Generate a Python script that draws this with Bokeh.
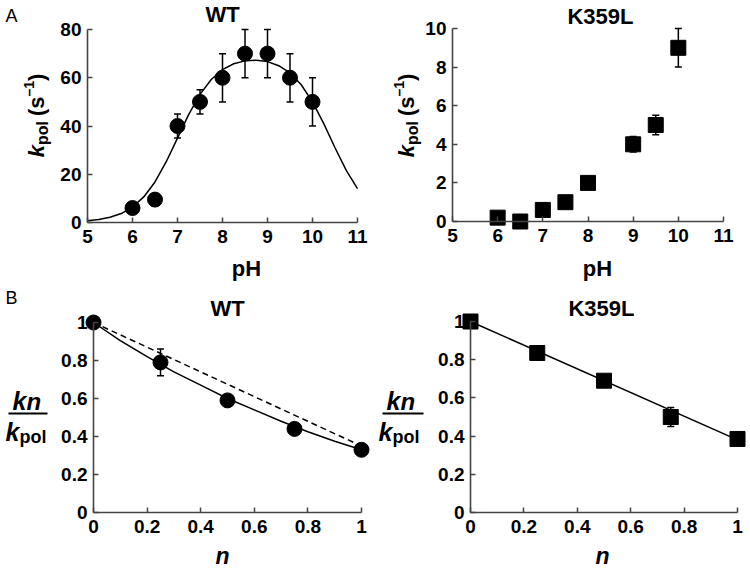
import numpy as np
from bokeh.plotting import figure
from bokeh.models import (Range1d, FixedTicker, Whisker, TeeHead, ColumnDataSource,
                          Label, Arrow)
from bokeh.layouts import row, column
from bokeh.embed import file_html
from bokeh.resources import INLINE

# ---------------- data ----------------
ph_wt = [6.0, 6.5, 7.0, 7.5, 8.0, 8.5, 9.0, 9.5, 10.0]
kpol_wt = [6.0, 9.5, 40, 50, 60, 70, 70, 60, 50]
kpol_wt_err = [0, 0, 5, 5, 10, 10, 10, 10, 10]

ph_fit = [5.0, 5.25, 5.5, 5.75, 6.0, 6.25, 6.5, 6.75, 7.0, 7.25, 7.5, 7.75, 8.0,
          8.25, 8.5, 8.75, 9.0, 9.25, 9.5, 9.75, 10.0, 10.25, 10.5, 10.75, 11.0]
kpol_fit = [0.7, 1.2, 2.2, 3.7, 6.4, 10.6, 16.8, 25.2, 35.0, 44.8, 53.1, 59.3, 63.4,
            65.8, 67.0, 67.3, 66.7, 65.0, 62.0, 57.1, 50.0, 41.0, 31.0, 21.6, 14.0]

ph_k359l = [6.0, 6.5, 7.0, 7.5, 8.0, 9.0, 9.5, 10.0]
kpol_k359l = [0.2, 0.0, 0.6, 1.0, 2.0, 4.0, 5.0, 9.0]
kpol_k359l_err = [0, 0, 0, 0, 0, 0.4, 0.5, 1.0]

n_frac = [0, 0.25, 0.5, 0.75, 1]
ratio_wt = [1.0, 0.79, 0.59, 0.44, 0.33]
ratio_wt_err = [0, 0.07, 0, 0, 0]
n_curve_wt = [0, 0.1, 0.2, 0.3, 0.4, 0.5, 0.6, 0.7, 0.8, 0.9, 1.0]
ratio_curve_wt = [1.0, 0.905, 0.82, 0.74, 0.67, 0.60, 0.54, 0.48, 0.425, 0.375, 0.33]
n_dash_wt = [0, 1]
ratio_dash_wt = [1.0, 0.35]

ratio_k359l = [1.0, 0.835, 0.69, 0.50, 0.385]
ratio_k359l_err = [0, 0.03, 0, 0.05, 0]
n_line_k359l = [0, 1]
ratio_line_k359l = [1.0, 0.38]

ph_ticks = [5, 6, 7, 8, 9, 10, 11]
wt_kpol_ticks = [0, 20, 40, 60, 80]
k359l_kpol_ticks = [0, 2, 4, 6, 8, 10]
n_ticks = [0, 0.2, 0.4, 0.6, 0.8, 1]
n_tick_labels = ["0", "0.2", "0.4", "0.6", "0.8", "1"]

# ---------------- helpers ----------------
FONT = "Liberation Sans"
AXIS_COLOR = "#444444"
SHIFT = 0.25   # empirical correction of label baseline placement (fraction of font size)
CW = {'k': 0.556, 'p': 0.611, 'o': 0.611, 'l': 0.278, ' ': 0.278, '(': 0.333,
      's': 0.556, '–': 0.556, '1': 0.556, ')': 0.333, 'n': 0.611}


def tw(t, size):
    return sum(CW.get(c, 0.556) for c in t) * size


def make_panel(origin, size, xr, xpx, yr, ypx, xticks, yticks):
    """Frame covers the whole canvas; data ranges chosen so that the axis ends
    land at the given picture pixels."""
    ox, oy = origin
    W, H = size
    x0, x1 = xr
    px0, px1 = xpx
    y0, y1 = yr
    py0, py1 = ypx
    sx = (px1 - px0) / (x1 - x0)
    sy = (py0 - py1) / (y1 - y0)
    xs = x0 - (px0 - ox) / sx
    xe = x1 + (ox + W - px1) / sx
    ys = y0 - (oy + H - py0) / sy
    ye = y1 + (py1 - oy) / sy
    p = figure(width=W, height=H, x_range=Range1d(xs, xe), y_range=Range1d(ys, ye),
               output_backend="svg", toolbar_location=None, title=None,
               min_border=0, min_border_left=0, min_border_right=0,
               min_border_top=0, min_border_bottom=0)
    p.outline_line_color = None
    p.xgrid.visible = False
    p.ygrid.visible = False
    p.background_fill_color = "white"
    p.border_fill_color = "white"
    p.xaxis.fixed_location = y0
    p.yaxis.fixed_location = x0
    p.xaxis.bounds = (x0, x1)
    p.yaxis.bounds = (y0, y1)
    p.xaxis.ticker = FixedTicker(ticks=xticks)
    p.yaxis.ticker = FixedTicker(ticks=yticks)
    for ax in (p.xaxis, p.yaxis):
        ax.axis_line_color = AXIS_COLOR
        ax.axis_line_width = 1.6
        ax.major_tick_line_color = AXIS_COLOR
        ax.major_tick_line_width = 1.5
        ax.major_tick_in = 5
        ax.major_tick_out = 0
        ax.minor_tick_line_color = None
        ax.major_label_text_font = FONT
        ax.major_label_text_font_size = "19px"
        ax.major_label_text_font_style = "bold"
        ax.major_label_text_color = "black"
    p.xaxis.major_label_standoff = 7
    p.yaxis.major_label_standoff = 6
    return p, (ox, oy + H)


def lab(p, fr, X, Y, text, size, style="bold", align="left", angle=0.0):
    fl, fb = fr
    if angle == 0.0:
        Y = Y - SHIFT * size
    else:
        X = X - SHIFT * size
    p.add_layout(Label(x=X - fl, y=fb - Y, x_units="screen", y_units="screen",
                       text=text, text_font=FONT, text_font_size=f"{size}px",
                       text_font_style=style, text_align=align,
                       text_baseline="alphabetic", angle=angle, text_color="black"))


def rot_label(p, fr, Xbase, Ycenter, pieces):
    total = sum(tw(t, s) + g for t, s, _, _, g in pieces)
    y = Ycenter + total / 2
    for t, s, style, shift, gap in pieces:
        y -= gap
        lab(p, fr, Xbase + shift, y, t, s, style, angle=np.pi / 2)
        y -= tw(t, s)


def frac_label(p, fr, Xline0, Xline1, Yline, Xnum, Xden):
    fl, fb = fr
    lab(p, fr, Xnum, Yline - 6, "k", 25, "bold italic")
    lab(p, fr, Xnum + tw("k", 25), Yline - 6, "n", 24, "bold italic")
    p.add_layout(Arrow(end=None, x_start=Xline0 - fl, y_start=fb - Yline,
                       x_end=Xline1 - fl, y_end=fb - Yline,
                       start_units="screen", end_units="screen",
                       line_width=2, line_color="black"))
    lab(p, fr, Xden, Yline + 25, "k", 25, "bold italic")
    lab(p, fr, Xden + tw("k", 25), Yline + 28, "pol", 18, "bold")


def err_source(x, y, e):
    xs = [a for a, d in zip(x, e) if d > 0]
    up = [b + d for b, d in zip(y, e) if d > 0]
    lo = [b - d for b, d in zip(y, e) if d > 0]
    return ColumnDataSource(dict(x=xs, upper=up, lower=lo))


def add_whisker(p, src):
    p.add_layout(Whisker(source=src, base="x", upper="upper", lower="lower",
                         line_color="black", line_width=1.5,
                         upper_head=TeeHead(size=7, line_width=1.5, line_color="black"),
                         lower_head=TeeHead(size=7, line_width=1.5, line_color="black")))


KPOL_PIECES = [("k", 22, "bold italic", 0, 0), ("pol", 16, "bold", 5, 0),
               ("(s", 22, "bold", 0, 5), ("–1", 14, "bold", -9, 0), (")", 22, "bold", 0, 0)]

# ---------------- panel A: WT ----------------
p1, f1 = make_panel((0, 0), (375, 285), (5, 11), (87, 357), (0, 80), (222, 29),
                    ph_ticks, wt_kpol_ticks)
add_whisker(p1, err_source(ph_wt, kpol_wt, kpol_wt_err))
p1.line(ph_fit, kpol_fit, line_color="black", line_width=1.5)
p1.scatter(ph_wt, kpol_wt, marker="circle", size=15, color="black")
lab(p1, f1, 222, 19, "WT", 22, align="center")
lab(p1, f1, 246, 273, "pH", 22, align="center")
rot_label(p1, f1, 41, 115, KPOL_PIECES)
lab(p1, f1, 5, 20, "A", 18, style="normal")

# ---------------- panel A: K359L ----------------
p2, f2 = make_panel((375, 0), (375, 285), (5, 11), (452, 723), (0, 10), (221, 28),
                    ph_ticks, k359l_kpol_ticks)
add_whisker(p2, err_source(ph_k359l, kpol_k359l, kpol_k359l_err))
p2.scatter(ph_k359l, kpol_k359l, marker="square", size=15, color="black")
lab(p2, f2, 600, 21, "K359L", 22, align="center")
lab(p2, f2, 597, 273, "pH", 22, align="center")
rot_label(p2, f2, 411, 115, KPOL_PIECES)

# ---------------- panel B: WT ----------------
p3, f3 = make_panel((0, 285), (375, 285), (0, 1), (93, 361), (0, 1), (512, 322),
                    n_ticks, n_ticks)
p3.xaxis.major_label_overrides = dict(zip(n_ticks, n_tick_labels))
p3.yaxis.major_label_overrides = dict(zip(n_ticks, n_tick_labels))
add_whisker(p3, err_source(n_frac, ratio_wt, ratio_wt_err))
p3.line(n_dash_wt, ratio_dash_wt, line_color="black", line_width=1.5, line_dash="6 4")
p3.line(n_curve_wt, ratio_curve_wt, line_color="black", line_width=1.5)
p3.scatter(n_frac, ratio_wt, marker="circle", size=15, color="black")
lab(p3, f3, 227, 313, "WT", 22, align="center")
lab(p3, f3, 222, 561, "n", 23, style="bold italic", align="center")
frac_label(p3, f3, 8, 47, 413, 12, 5)
lab(p3, f3, 5, 302, "B", 18, style="normal")

# ---------------- panel B: K359L ----------------
p4, f4 = make_panel((375, 285), (375, 285), (0, 1), (470, 737), (0, 1), (512, 321),
                    n_ticks, n_ticks)
p4.xaxis.major_label_overrides = dict(zip(n_ticks, n_tick_labels))
p4.yaxis.major_label_overrides = dict(zip(n_ticks, n_tick_labels))
add_whisker(p4, err_source(n_frac, ratio_k359l, ratio_k359l_err))
p4.line(n_line_k359l, ratio_line_k359l, line_color="black", line_width=1.5)
p4.scatter(n_frac, ratio_k359l, marker="square", size=15, color="black")
lab(p4, f4, 601, 313, "K359L", 22, align="center")
lab(p4, f4, 602, 561, "n", 23, style="bold italic", align="center")
frac_label(p4, f4, 382, 423, 413, 386, 378)

layout = column(row(p1, p2), row(p3, p4))
open("out.html", "w").write(file_html(layout, INLINE))
